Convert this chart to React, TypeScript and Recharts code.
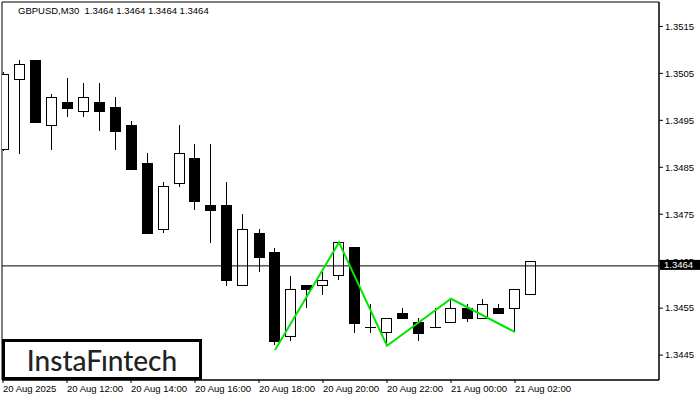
import React from 'react';
import { ComposedChart, Bar, Line, XAxis, YAxis, ReferenceLine, ReferenceArea } from 'recharts';

// ── Data (GBPUSD M30, 20 Aug 10:00 .. 21 Aug 02:30) ──

const timeLabels = [
  '20 Aug 2025', '20 Aug 12:00', '20 Aug 14:00', '20 Aug 16:00', '20 Aug 18:00',
  '20 Aug 20:00', '20 Aug 22:00', '21 Aug 00:00', '21 Aug 02:00',
];
const timeTicks = [0, 4, 8, 12, 16, 20, 24, 28, 32];

const opens = [
  1.34888, 1.35039, 1.35078, 1.34939, 1.34989, 1.34969, 1.34989, 1.34978, 1.34939, 1.34859,
  1.34718, 1.34817, 1.3487, 1.3477, 1.3477, 1.34599, 1.3471, 1.3467, 1.3449, 1.34599,
  1.34599, 1.3462, 1.3468, 1.3451, 1.34499, 1.3454, 1.34521, 1.3451, 1.3452, 1.34551,
  1.34529, 1.34551, 1.3455, 1.3458,
];
const highs = [
  1.35052, 1.35078, 1.35078, 1.35007, 1.3504, 1.35029, 1.35029, 1.34999, 1.34949, 1.3488,
  1.34818, 1.3494, 1.349, 1.349, 1.34819, 1.34751, 1.34718, 1.34679, 1.34619, 1.346,
  1.34628, 1.3469, 1.3468, 1.34559, 1.34529, 1.34551, 1.34529, 1.34551, 1.3457, 1.34559,
  1.3457, 1.34559, 1.34591, 1.34651,
];
const lows = [
  1.34885, 1.34878, 1.34947, 1.34887, 1.34958, 1.34958, 1.34928, 1.34887, 1.34847, 1.3471,
  1.3471, 1.34809, 1.34758, 1.34688, 1.34598, 1.34599, 1.34628, 1.34472, 1.34479, 1.3455,
  1.34578, 1.3461, 1.34498, 1.34498, 1.3447, 1.34529, 1.34479, 1.3451, 1.3452, 1.3452,
  1.34529, 1.34539, 1.34499, 1.3458,
];
const closes = [
  1.35049, 1.3507, 1.34947, 1.34999, 1.34977, 1.34999, 1.34969, 1.34928, 1.34847, 1.3471,
  1.3481, 1.3488, 1.34779, 1.34758, 1.3461, 1.34718, 1.34658, 1.34479, 1.3459, 1.3459,
  1.3461, 1.3469, 1.34519, 1.3451, 1.34529, 1.34529, 1.34498, 1.3451, 1.34551, 1.34529,
  1.34559, 1.34539, 1.34591, 1.34651,
];

// green zigzag (pattern) points: candle index -> price
const patternIdx = [17, 21, 24, 28, 32];
const patternVals = [1.34461, 1.3469, 1.3447, 1.3457, 1.34499];

const priceTicks = [1.3445, 1.3455, 1.3465, 1.3475, 1.3485, 1.3495, 1.3505, 1.3515];
const lastPrice = 1.3464;
const priceDomain = [1.34397, 1.35202];
const indexDomain = [-0.0625, 41];

const data = opens.map((open, i) => {
  const k = patternIdx.indexOf(i);
  return {
    i,
    open,
    high: highs[i],
    low: lows[i],
    close: closes[i],
    pattern: k >= 0 ? patternVals[k] : null,
  };
});

const FONT = '"Liberation Sans", Arial, sans-serif';

// ── Candle shape ──

function Candle(props: any) {
  const { x, y, width, height, payload } = props;
  if (x == null || y == null) return null;
  const { open, close, high, low } = payload;
  const toY = (p: number) => (high === low ? y : y + ((high - p) / (high - low)) * height);
  const left = Math.ceil(x);
  const w = Math.round(width);
  const cx = left + Math.floor(w / 2) + 0.5;
  const top = Math.round(toY(Math.max(open, close)));
  const bottom = Math.round(toY(Math.min(open, close)));
  const bull = close >= open;
  return (
    <g>
      <line x1={cx} x2={cx} y1={Math.round(y)} y2={Math.round(y + height)} stroke="#000" strokeWidth={1} />
      {bottom - top < 1 ? (
        <line x1={left} x2={left + w} y1={top + 0.5} y2={top + 0.5} stroke="#000" strokeWidth={1} />
      ) : (
        <rect
          x={left + 0.5}
          y={top + 0.5}
          width={w - 1}
          height={bottom - top}
          fill={bull ? '#fff' : '#000'}
          stroke="#000"
          strokeWidth={1}
        />
      )}
    </g>
  );
}

function TimeTick(props: any) {
  const { x, y, payload } = props;
  const k = timeTicks.indexOf(payload.value);
  return (
    <text x={x} y={y} dy="0.71em" textAnchor="start" fontSize={9.5} fontFamily={FONT} fill="#000">
      {k >= 0 ? timeLabels[k] : ''}
    </text>
  );
}

// price labels; the last price is drawn last, as a black tag over the others
function PriceTick(props: any) {
  const { x, y, payload } = props;
  const v = payload.value;
  if (v === lastPrice) {
    return (
      <g>
        <rect x={x - 5} y={y - 6} width={45} height={10} fill="#000" />
        <text x={x - 1} y={y - 1} dy="0.35em" fontSize={9.5} fontFamily={FONT} fill="#fff">
          {v.toFixed(4)}
        </text>
      </g>
    );
  }
  return (
    <text x={x} y={y} dy="0.35em" textAnchor="start" fontSize={9.5} fontFamily={FONT} fill="#000">
      {v.toFixed(4)}
    </text>
  );
}

export default function App() {
  return (
    <div style={{ position: 'absolute', left: 0, top: 0, width: 700, height: 400, background: '#fff' }}>
      <ComposedChart width={700} height={400} data={data} margin={{ top: 2, right: 0, bottom: 0, left: 2 }}>
        <XAxis
          dataKey="i"
          type="number"
          domain={indexDomain}
          allowDataOverflow
          ticks={timeTicks}
          interval={0}
          tick={<TimeTick />}
          tickSize={3}
          height={20}
          axisLine={{ stroke: '#000' }}
          tickLine={{ stroke: '#000' }}
        />
        <YAxis
          orientation="right"
          type="number"
          domain={priceDomain}
          allowDataOverflow
          ticks={[...priceTicks, lastPrice]}
          interval={0}
          width={41}
          tickSize={4}
          tickMargin={2}
          tick={<PriceTick />}
          axisLine={{ stroke: '#000' }}
          tickLine={{ stroke: '#000' }}
        />
        <ReferenceArea
          x1={indexDomain[0]}
          x2={indexDomain[1]}
          y1={priceDomain[0]}
          y2={priceDomain[1]}
          fill="none"
          fillOpacity={0}
          stroke="#000"
          strokeWidth={1}
          ifOverflow="visible"
        />
        <ReferenceLine y={lastPrice} stroke="#000" strokeWidth={1} ifOverflow="visible" />
        <Bar
          dataKey={(d: any) => [d.low, d.high]}
          barSize={11}
          shape={<Candle />}
          isAnimationActive={false}
        />
        <Line
          dataKey="pattern"
          type="linear"
          stroke="#00e600"
          strokeWidth={2}
          dot={false}
          activeDot={false}
          connectNulls
          isAnimationActive={false}
        />
      </ComposedChart>

      <div
        style={{
          position: 'absolute',
          left: 18,
          top: 6,
          fontFamily: FONT,
          fontSize: 9.5,
          lineHeight: '10px',
          color: '#000',
          whiteSpace: 'pre',
        }}
      >
        {'GBPUSD,M30  1.3464 1.3464 1.3464 1.3464'}
      </div>

      <div
        style={{
          position: 'absolute',
          left: 2,
          top: 339,
          width: 200,
          height: 41,
          boxSizing: 'border-box',
          border: '3px solid #000',
          background: '#fff',
          display: 'flex',
          alignItems: 'center',
          justifyContent: 'center',
          fontFamily: 'Lato, "Open Sans", sans-serif',
          fontWeight: 500,
          fontSize: 28,
          color: '#222',
        }}
      >
        InstaFıntech
      </div>
    </div>
  );
}
